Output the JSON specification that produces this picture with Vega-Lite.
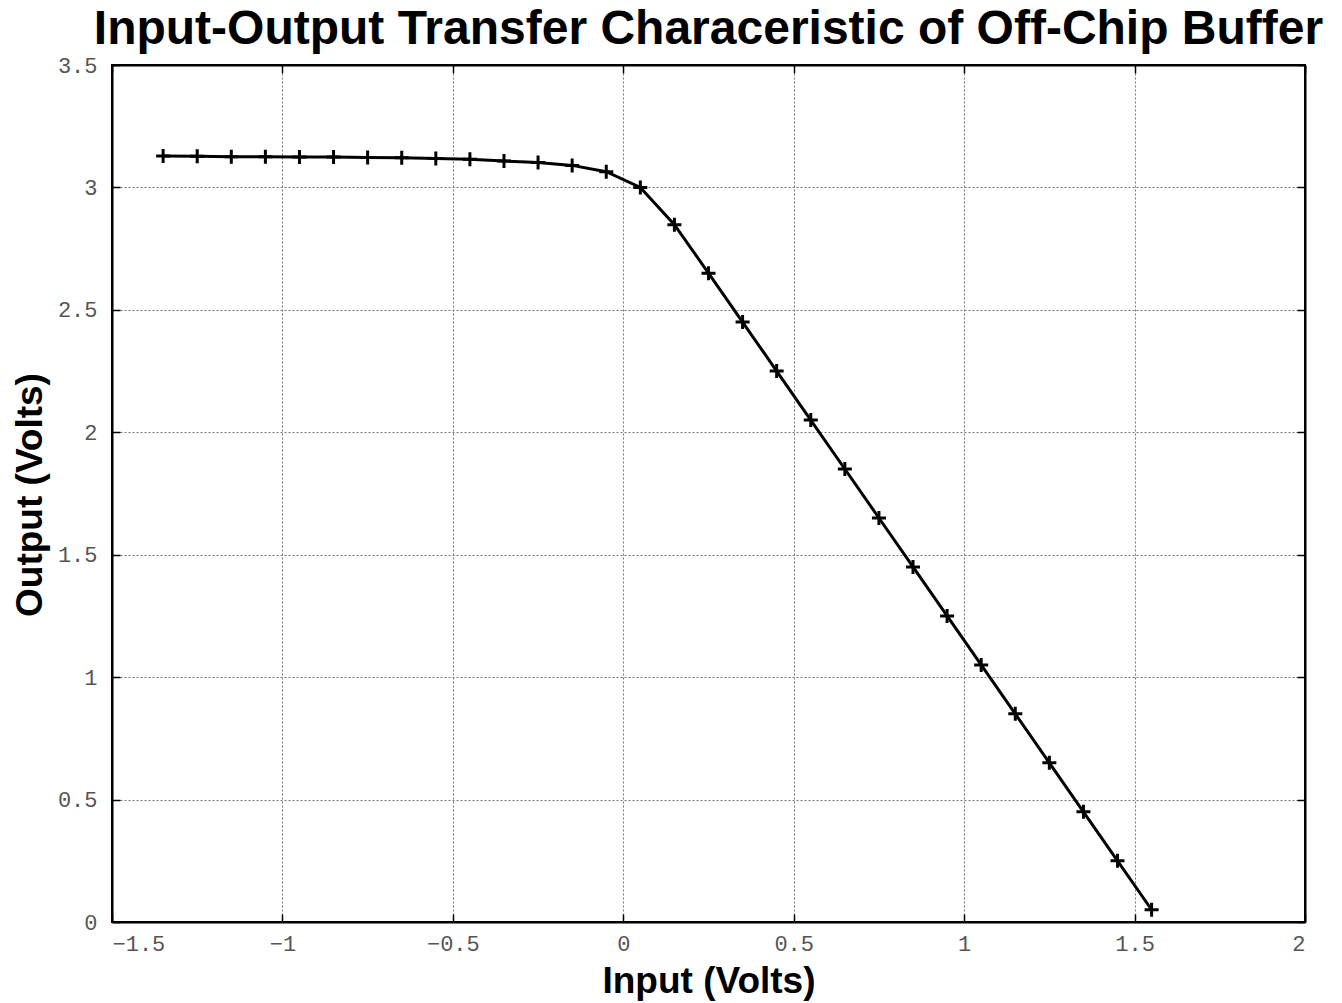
{
  "$schema": "https://vega.github.io/schema/vega-lite/v6.json",
  "autosize": {"type": "none"},
  "width": 1193,
  "height": 857,
  "padding": {"left": 112, "top": 65, "right": 37, "bottom": 81},
  "background": "white",
  "title": {
    "text": "Input-Output Transfer Characeristic of Off-Chip Buffer",
    "font": "Liberation Sans",
    "fontSize": 48,
    "fontWeight": "bold",
    "color": "black",
    "anchor": "middle",
    "baseline": "alphabetic",
    "offset": 20,
    "dy": 58
  },
  "config": {
    "view": {"stroke": "black", "strokeWidth": 2},
    "axis": {
      "labelFont": "Liberation Mono",
      "labelFontSize": 22,
      "labelColor": "#555555",
      "titleFont": "Liberation Sans",
      "titleFontSize": 37,
      "titleFontWeight": "bold",
      "titleColor": "black",
      "domainColor": "black",
      "domainWidth": 2,
      "tickColor": "black",
      "tickWidth": 1.5,
      "tickSize": -8,
      "gridColor": "#777777",
      "gridDash": [2, 2],
      "gridWidth": 1,
      "gridOpacity": 1,
      "format": "~g"
    }
  },
  "data": {
    "values": [
      {"input": -1.35, "output": 3.128},
      {"input": -1.25, "output": 3.127},
      {"input": -1.15, "output": 3.125},
      {"input": -1.05, "output": 3.125},
      {"input": -0.95, "output": 3.124},
      {"input": -0.85, "output": 3.124},
      {"input": -0.75, "output": 3.122},
      {"input": -0.65, "output": 3.121},
      {"input": -0.55, "output": 3.118},
      {"input": -0.45, "output": 3.115},
      {"input": -0.35, "output": 3.108},
      {"input": -0.25, "output": 3.102},
      {"input": -0.15, "output": 3.090},
      {"input": -0.05, "output": 3.064},
      {"input": 0.05, "output": 3.0},
      {"input": 0.15, "output": 2.848},
      {"input": 0.25, "output": 2.65},
      {"input": 0.35, "output": 2.45},
      {"input": 0.45, "output": 2.25},
      {"input": 0.55, "output": 2.05},
      {"input": 0.65, "output": 1.85},
      {"input": 0.75, "output": 1.65},
      {"input": 0.85, "output": 1.45},
      {"input": 0.95, "output": 1.25},
      {"input": 1.05, "output": 1.05},
      {"input": 1.15, "output": 0.85},
      {"input": 1.25, "output": 0.65},
      {"input": 1.35, "output": 0.45},
      {"input": 1.45, "output": 0.25},
      {"input": 1.55, "output": 0.05}
    ]
  },
  "layer": [
    {
      "mark": {"type": "line", "color": "black", "strokeWidth": 3},
      "encoding": {
        "x": {
          "field": "input", "type": "quantitative",
          "scale": {"domain": [-1.5, 2], "nice": false, "zero": false},
          "axis": {
            "orient": "bottom", "title": "Input (Volts)", "values": [-1.5, -1, -0.5, 0, 0.5, 1, 1.5, 2],
            "labelPadding": 19, "titleX": 596.5, "titleY": 59, "titleBaseline": "middle", "titleAnchor": "middle"
          }
        },
        "y": {
          "field": "output", "type": "quantitative",
          "scale": {"domain": [0, 3.5], "nice": false},
          "axis": {
            "orient": "left", "title": "Output (Volts)", "values": [0, 0.5, 1, 1.5, 2, 2.5, 3, 3.5],
            "labelPadding": 23, "titleX": -82, "titleY": 429.5, "titleBaseline": "middle", "titleAnchor": "middle", "titleAngle": -90
          }
        }
      }
    },
    {
      "mark": {"type": "point", "shape": "M-1,0L1,0M0,-1L0,1", "size": 196, "stroke": "black", "strokeWidth": 3, "filled": false, "opacity": 1},
      "encoding": {
        "x": {
          "field": "input", "type": "quantitative",
          "axis": {"orient": "top", "title": null, "labels": false, "grid": false, "values": [-1.5, -1, -0.5, 0, 0.5, 1, 1.5, 2]}
        },
        "y": {
          "field": "output", "type": "quantitative",
          "axis": {"orient": "right", "title": null, "labels": false, "grid": false, "values": [0, 0.5, 1, 1.5, 2, 2.5, 3, 3.5]}
        }
      }
    }
  ],
  "resolve": {"axis": {"x": "independent", "y": "independent"}}
}
